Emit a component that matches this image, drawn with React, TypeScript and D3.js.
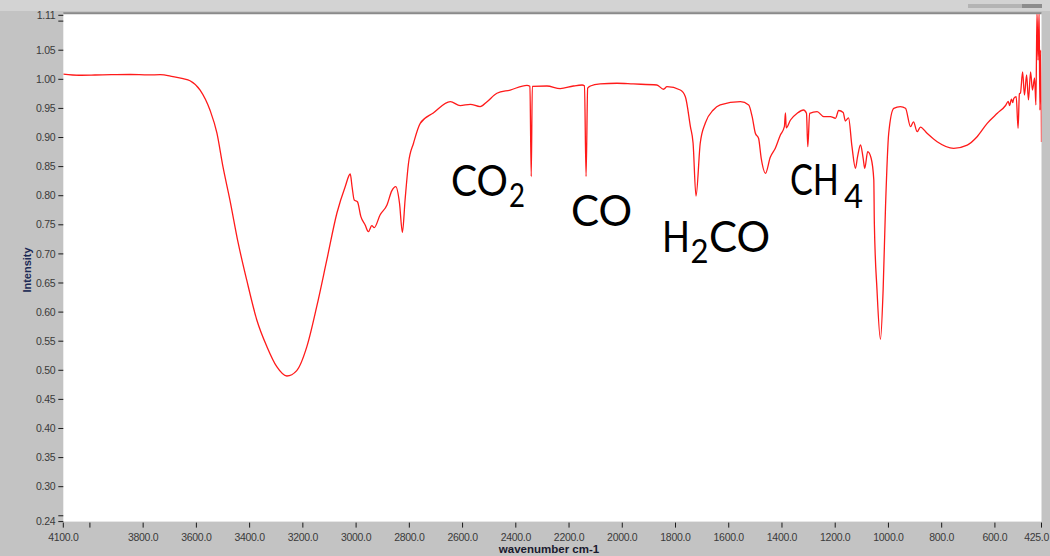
import React, { useLayoutEffect, useRef, useState } from 'react';
import * as d3 from 'd3';

// Spectrum: wavenumber (cm-1) and intensity
const wavenumbers = [
  4100, 4040, 3981, 3920, 3849, 3780, 3736, 3688, 3650, 3624, 3586, 3549, 3523, 3500, 3474, 3443, 3411, 3373, 3335, 3298,
  3260, 3223, 3185, 3148, 3110, 3072, 3041, 3022, 3015, 3007, 2995, 2982, 2966, 2954, 2941, 2932, 2910, 2884, 2866, 2851,
  2837, 2826, 2816, 2803, 2784, 2759, 2710, 2646, 2609, 2571, 2534, 2508, 2471, 2421, 2358, 2347, 2342, 2338, 2283, 2233,
  2184, 2151, 2142, 2136, 2130, 2120, 2083, 2020, 1959, 1870, 1845, 1832, 1782, 1763, 1744, 1734, 1723, 1707, 1688, 1658,
  1632, 1556, 1525, 1512, 1500, 1488, 1478, 1462, 1444, 1425, 1406, 1391, 1387, 1384, 1368, 1343, 1319, 1308, 1303, 1296,
  1268, 1243, 1218, 1199, 1187, 1170, 1162, 1150, 1137, 1124, 1116, 1105, 1095, 1089, 1078, 1065, 1055, 1053, 1043, 1030,
  1020, 1011, 999, 980, 955, 936, 917, 906, 892, 880, 855, 817, 755, 704, 667, 629, 591, 560, 550, 545,
  538, 533, 529, 520, 513, 508, 504, 496, 489, 481, 474, 466, 459, 451, 446, 442, 438, 434, 431, 428,
  425,
];
const intensities = [
  1.009, 1.007, 1.0074, 1.008, 1.0083, 1.0075, 1.008, 1.0045, 1.001, 0.9976, 0.9816, 0.9473, 0.9078, 0.8494, 0.7926, 0.7188, 0.6552, 0.5865, 0.5406, 0.5062,
  0.4902, 0.4995, 0.5406, 0.6093, 0.6896, 0.7703, 0.8155, 0.8373, 0.815, 0.7926, 0.7897, 0.764, 0.7497, 0.7382, 0.7485, 0.745, 0.7669, 0.784, 0.8083, 0.8155,
  0.7875, 0.7371, 0.7926, 0.8562, 0.8906, 0.9244, 0.9421, 0.9616, 0.9547, 0.9571, 0.953, 0.9616, 0.976, 0.9816, 0.9897, 0.988, 0.833, 0.988, 0.9885, 0.9839,
  0.9885, 0.9902, 0.989, 0.833, 0.985, 0.9885, 0.992, 0.9932, 0.992, 0.9902, 0.9829, 0.9873, 0.9816, 0.9701, 0.9186, 0.8906, 0.7995, 0.8906, 0.925, 0.9473,
  0.9559, 0.9616, 0.9559, 0.9358, 0.9073, 0.8987, 0.8643, 0.8385, 0.866, 0.8815, 0.9043, 0.9186, 0.9421, 0.9164, 0.9301, 0.9416, 0.9473, 0.9416, 0.8842, 0.9416,
  0.9444, 0.9358, 0.936, 0.933, 0.9464, 0.943, 0.9284, 0.9336, 0.8842, 0.8471, 0.867, 0.8871, 0.8643, 0.8471, 0.8756, 0.8643, 0.827, 0.7531, 0.638, 0.5533,
  0.638, 0.7811, 0.9073, 0.9502, 0.953, 0.9502, 0.9186, 0.9267, 0.91, 0.918, 0.9073, 0.8928, 0.8815, 0.887, 0.9014, 0.9244, 0.9416, 0.955, 0.962, 0.955,
  0.966, 0.96, 0.9674, 0.97, 0.9158, 0.975, 0.9765, 1.0126, 0.973, 1.0074, 0.9645, 1.0126, 0.9816, 1.0023, 0.956, 1.115, 1.033, 1.115, 0.947, 1.05,
  0.8924,
];

const xTicks = [4000, 3800, 3600, 3400, 3200, 3000, 2800, 2600, 2400, 2200, 2000, 1800, 1600, 1400, 1200, 1000, 800, 600];
const xLabelTicks = [3800, 3600, 3400, 3200, 3000, 2800, 2600, 2400, 2200, 2000, 1800, 1600, 1400, 1200, 1000, 800, 600];
const xEnds = [4100, 425];
const yTicks = [0.25, 0.3, 0.35, 0.4, 0.45, 0.5, 0.55, 0.6, 0.65, 0.7, 0.75, 0.8, 0.85, 0.9, 0.95, 1.0, 1.05, 1.1];
const yLabelTicks = [0.3, 0.35, 0.4, 0.45, 0.5, 0.55, 0.6, 0.65, 0.7, 0.75, 0.8, 0.85, 0.9, 0.95, 1.0, 1.05];
const yEnds = [0.24, 1.11];

const xTitle = 'wavenumber cm-1';
const yTitle = 'Intensity';

// Annotation label pieces (sub = subscript); len = wanted advance width (0 = natural)
const labelPieces = [
  { t: 'CO', sub: false, x: 451, y: 196, len: 57 },
  { t: '2', sub: true, x: 509, y: 207, len: 16 },
  { t: 'CO', sub: false, x: 571, y: 226, len: 0 },
  { t: 'H', sub: false, x: 662, y: 252, len: 28 },
  { t: '2', sub: true, x: 690.5, y: 263, len: 18 },
  { t: 'CO', sub: false, x: 709, y: 252, len: 0 },
  { t: 'CH', sub: false, x: 790, y: 195, len: 49 },
  { t: '4', sub: true, x: 844, y: 208, len: 19 },
];

const W = 1050;
const H = 556;
const PL = 63.3, PR = 1041.5, PT = 15.3, PB = 521.6;

export default function App() {
  const x = d3.scaleLinear().domain([4100, 425]).range([PL, PR]);
  const y = d3.scaleLinear().domain([0.24, 1.11]).range([PB, PT]);
  const pts: [number, number][] = wavenumbers
    .map((w, i) => [w, intensities[i]] as [number, number])
    .sort((a, b) => a[0] - b[0]);
  const line = d3.line<[number, number]>().x(d => x(d[0])).y(d => y(d[1])).curve(d3.curveMonotoneX);
  const tickFont = "'Liberation Sans', Arial, sans-serif";

  const mainSize = 42;
  const subSize = 32;

  const refs = useRef<(SVGTextElement | null)[]>([]);
  const [scales, setScales] = useState<number[]>(labelPieces.map(() => 1));
  useLayoutEffect(() => {
    const s = labelPieces.map((p, i) => {
      const el = refs.current[i];
      if (!el || !p.len) return 1;
      const nat = el.getComputedTextLength();
      return nat > 0 ? p.len / nat : 1;
    });
    setScales(s);
  }, []);

  return (
    <svg width={W} height={H} style={{ position: 'absolute', left: 0, top: 0, display: 'block' }}>
      <defs>
        <clipPath id="plotclip">
          <rect x={PL} y={PT - 1} width={PR - PL} height={PB - PT + 1} />
        </clipPath>
      </defs>
      <rect x={0} y={0} width={W} height={H} fill="#c3c3c3" />
      <rect x={0} y={0} width={W} height={11} fill="#d3d3d3" />
      <rect x={968} y={4} width={74} height={4} fill="#b4b4b4" />
      <rect x={1022} y={4} width={20} height={4} fill="#8c8c8c" />
      <rect x={PL} y={PT - 2} width={PR - PL} height={PB - PT + 2} fill="#ffffff" />
      <line x1={PL} x2={PR} y1={PT - 2} y2={PT - 2} stroke="#8a8a8a" strokeWidth={2} />

      {/* Y ticks */}
      {[...yTicks, ...yEnds].map(v => (
        <line key={'yt' + v} x1={PL - 5} x2={PL} y1={y(v)} y2={y(v)} stroke="#1a1a1a" strokeWidth={1} />
      ))}
      {[...yLabelTicks, ...yEnds].map(v => (
        <text key={'yl' + v} x={PL - 8} y={y(v)} dy="0.35em" textAnchor="end" fontSize={10.5}
          fontFamily={tickFont} fill="#3a3a3a" letterSpacing={-0.3}>
          {v.toFixed(2)}
        </text>
      ))}

      {/* X ticks */}
      {[...xTicks, ...xEnds].map(v => (
        <line key={'xt' + v} x1={x(v)} x2={x(v)} y1={PB + 1} y2={PB + 6} stroke="#1a1a1a" strokeWidth={1} />
      ))}
      {[...xLabelTicks, ...xEnds].map(v => {
        const last = v === 425;
        return (
          <text key={'xl' + v} x={last ? W - 1 : x(v)} y={PB + 19} textAnchor={last ? 'end' : 'middle'} fontSize={10.5}
            fontFamily={tickFont} fill="#3a3a3a" letterSpacing={-0.3}>
            {v.toFixed(1)}
          </text>
        );
      })}

      <text x={549} y={553} textAnchor="middle" fontSize={11.5} fontWeight="bold" fontFamily={tickFont} fill="#1a1a2e">
        {xTitle}
      </text>
      <text transform={`translate(31,270) rotate(-90)`} textAnchor="middle" fontSize={11} fontWeight="bold"
        fontFamily={tickFont} fill="#1c2a55">
        {yTitle}
      </text>

      <path d={line(pts) || ''} fill="none" stroke="#ff1a1a" strokeWidth={1.3} clipPath="url(#plotclip)" />

      {labelPieces.map((p, i) => (
        <text key={'lb' + i} ref={el => { refs.current[i] = el; }}
          transform={`translate(${p.x},${p.y}) scale(${scales[i]},1)`}
          fontSize={p.sub ? subSize : mainSize}
          fontFamily="Lato, 'Noto Sans', sans-serif" fill="#000">
          {p.t}
        </text>
      ))}
    </svg>
  );
}
